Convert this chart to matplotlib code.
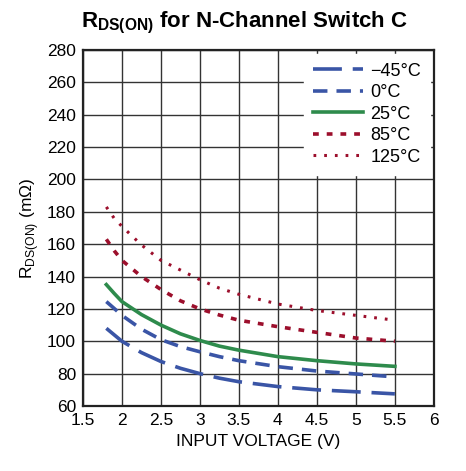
import matplotlib.pyplot as plt

plt.rcParams['font.family'] = ['Liberation Sans', 'DejaVu Sans']
plt.rcParams['mathtext.fontset'] = 'custom'
plt.rcParams['mathtext.rm'] = 'Liberation Sans'
plt.rcParams['mathtext.bf'] = 'Liberation Sans:bold'

# дані
voltage = [1.8, 1.9, 2.0, 2.25, 2.5, 2.75, 3.0, 3.25, 3.5, 4.0, 4.5, 5.0, 5.5]
r_m45 = [108, 104, 100, 93, 87.5, 83.3, 80, 77.2, 75, 72, 70, 68.8, 67.5]
r_0 = [124.5, 120.3, 116, 107.5, 101, 96.7, 93.5, 90.5, 88, 84.3, 81.6, 79.8, 78]
r_25 = [135, 129.6, 124.5, 116.5, 110, 104.6, 100.5, 97, 94.5, 90.5, 88, 86, 84.5]
r_85 = [163, 156, 150, 140, 132, 125, 120, 116.2, 113, 109, 105.5, 102, 100]
r_125 = [183, 176, 171, 159.5, 150, 144, 138, 132.8, 129, 123, 119, 116, 113]

labels = ['\u221245\u00b0C', '0\u00b0C', '25\u00b0C', '85\u00b0C', '125\u00b0C']
xticks = [1.5, 2, 2.5, 3, 3.5, 4, 4.5, 5, 5.5, 6]
yticks = list(range(60, 281, 20))

blue = '#3a55a6'
green = '#2e8b4c'
red = '#9c0f2c'

fig = plt.figure(figsize=(4.66, 4.71), dpi=100)
ax = fig.add_axes([0.178, 0.138, 0.753, 0.756])

ax.plot(voltage, r_m45, color=blue, lw=2.6, dashes=(8, 3), label=labels[0])
ax.plot(voltage, r_0, color=blue, lw=2.6, dashes=(4, 2.5), label=labels[1])
ax.plot(voltage, r_25, color=green, lw=2.6, label=labels[2])
ax.plot(voltage, r_85, color=red, lw=2.6, dashes=(1.6, 2.2), label=labels[3])
ax.plot(voltage, r_125, color=red, lw=2.2, dashes=(0.9, 2.6), label=labels[4])

ax.set_xlim(1.5, 6)
ax.set_ylim(60, 280)
ax.set_xticks(xticks)
ax.set_xticklabels([f'{t:g}' for t in xticks])
ax.set_yticks(yticks)
ax.grid(True, color='#333333', lw=1.0)
ax.tick_params(length=0, labelsize=12.5, pad=5)
for s in ax.spines.values():
    s.set_linewidth(1.6)
    s.set_color('#222222')

ax.set_xlabel('INPUT VOLTAGE (V)', fontsize=12.5)
ax.set_ylabel('R$_{\\mathregular{DS(ON)}}$ (m\u03a9)', fontsize=12.5)
fig.suptitle('R$_{\\mathbf{DS(ON)}}$ for N-Channel Switch C', x=0.525, y=0.978,
             fontsize=16, fontweight='bold')

leg = ax.legend(loc='upper right', fontsize=13, handlelength=2.8, labelspacing=0.25,
                borderpad=0.5, handletextpad=0.4, borderaxespad=0.2, fancybox=False)
leg.get_frame().set_facecolor('white')
leg.get_frame().set_edgecolor('white')
leg.get_frame().set_alpha(1)

plt.savefig('out.png', dpi=100)
